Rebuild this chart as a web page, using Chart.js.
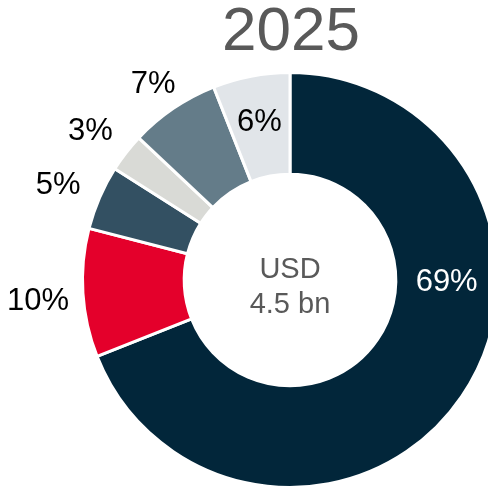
<!DOCTYPE html>
<html><head><meta charset="utf-8">
<script src="https://cdn.jsdelivr.net/npm/chart.js@4.4.1/dist/chart.umd.min.js"></script>
<style>
html,body{margin:0;padding:0;overflow:hidden;background:#fff;width:488px;height:491px;}
#wrap{position:absolute;left:0;top:0;width:580px;height:560px;}
</style></head>
<body>
<div id="wrap"><canvas id="c" width="580" height="560"></canvas></div>
<script>
const title = "2025";
const centerLines = ["USD", "4.5 bn"];
const categories = ["A", "B", "C", "D", "E", "F"];
const values = [69, 10, 5, 3, 7, 6];
const labels = ["69%", "10%", "5%", "3%", "7%", "6%"];
const colors = ["#02263A", "#E4002B", "#335062", "#D9DAD6", "#647C89", "#E1E5E9"];

const labelPlugin = {
  id: 'labelPlugin',
  afterDraw(chart) {
    const ctx = chart.ctx;
    const meta = chart.getDatasetMeta(0);
    const font = '"Liberation Sans", Arial, sans-serif';
    ctx.save();
    ctx.textAlign = 'center';
    ctx.fillStyle = '#595959';
    ctx.font = '62px ' + font;
    ctx.textBaseline = 'alphabetic';
    const cx = meta.data[0].x, cy = meta.data[0].y;
    ctx.fillText(title, cx + 1, 50);
    ctx.font = '29px ' + font;
    ctx.fillText(centerLines[0], cx, cy - 2);
    ctx.fillText(centerLines[1], cx, cy + 33);
    ctx.font = '31px ' + font;
    ctx.textBaseline = 'middle';
    meta.data.forEach((arc, i) => {
      const p = arc.getProps(['x','y','startAngle','endAngle','innerRadius','outerRadius'], true);
      let ang = (p.startAngle + p.endAngle) / 2;
      let r, col = '#000', dy = 2;
      if (i === 0) { ang = 0; r = (p.innerRadius + p.outerRadius) / 2; col = '#fff'; }
      else if (i === 5) { r = (p.innerRadius + p.outerRadius) / 2 + 6; }
      else { r = p.outerRadius + (i === 4 ? 36 : 45); dy = 6; }
      ctx.fillStyle = col;
      ctx.fillText(labels[i], p.x + Math.cos(ang) * r, p.y + Math.sin(ang) * r + dy);
    });
    ctx.restore();
  }
};

new Chart(document.getElementById('c'), {
  type: 'doughnut',
  data: {
    labels: categories,
    datasets: [{
      data: values,
      backgroundColor: colors,
      borderColor: '#ffffff',
      borderWidth: 3,
      hoverOffset: 0
    }]
  },
  options: {
    responsive: false,
    animation: false,
    cutout: '51%',
    layout: { padding: { left: 81, right: 81, top: 71, bottom: 71 } },
    plugins: { legend: { display: false }, tooltip: { enabled: false }, title: { display: false } }
  },
  plugins: [labelPlugin]
});
</script>
</body></html>
